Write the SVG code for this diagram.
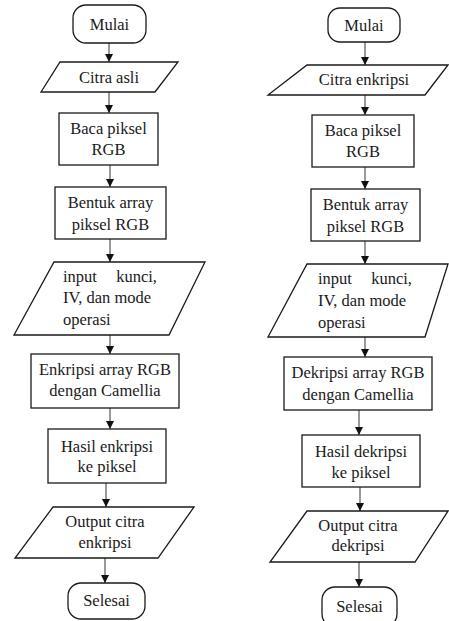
<svg xmlns="http://www.w3.org/2000/svg" width="449" height="621" viewBox="0 0 449 621">
  <style>
    .shape { fill: #ffffff; stroke: #1a1a1a; stroke-width: 1.3; }
    .conn { stroke: #555555; stroke-width: 1.2; fill: none; marker-end: url(#arrow); }
    text { font-family: "Liberation Serif", Tinos, "Times New Roman", Times, "Noto Serif", "DejaVu Serif", FreeSerif, serif; font-size: 16.5px; fill: #1a1a1a; }
    .c { text-anchor: middle; }
  </style>
  <defs>
    <marker id="arrow" viewBox="0 0 10 10" refX="10" refY="5" markerWidth="8" markerHeight="8" markerUnits="userSpaceOnUse" orient="auto">
      <path d="M0,0 L10,5 L0,10 z" fill="#111111"/>
    </marker>
  </defs>
  <rect width="449" height="621" fill="#ffffff"/>

  <!-- connectors -->
  <g id="connectors">
    <!-- encryption flow -->
    <line class="conn" x1="109" y1="43" x2="109" y2="62"/>
    <line class="conn" x1="109" y1="92" x2="109" y2="113"/>
    <line class="conn" x1="110" y1="165" x2="110" y2="187"/>
    <line class="conn" x1="110" y1="239" x2="110" y2="262"/>
    <line class="conn" x1="110" y1="335" x2="110" y2="354"/>
    <line class="conn" x1="110" y1="408" x2="110" y2="429"/>
    <line class="conn" x1="106" y1="483" x2="106" y2="507"/>
    <line class="conn" x1="105" y1="558" x2="105" y2="583"/>
    <!-- decryption flow -->
    <line class="conn" x1="365" y1="42" x2="365" y2="65"/>
    <line class="conn" x1="365" y1="95" x2="365" y2="115"/>
    <line class="conn" x1="365" y1="167" x2="365" y2="189"/>
    <line class="conn" x1="365" y1="241" x2="365" y2="264"/>
    <line class="conn" x1="365" y1="337" x2="365" y2="357"/>
    <line class="conn" x1="359" y1="410" x2="359" y2="435"/>
    <line class="conn" x1="360" y1="487" x2="360" y2="511"/>
    <line class="conn" x1="359" y1="562" x2="359" y2="587"/>
  </g>

  <!-- encryption flow nodes -->
  <g id="enc-start">
    <rect class="shape" x="73" y="5" width="73" height="38" rx="13"/>
    <text class="c" x="109.5" y="30">Mulai</text>
  </g>
  <g id="enc-input-image">
    <polygon class="shape" points="60,62 178,62 155,92 41,92"/>
    <text class="c" x="109" y="83">Citra asli</text>
  </g>
  <g id="enc-read">
    <rect class="shape" x="59" y="113" width="99" height="52"/>
    <text class="c" x="108.5" y="134">Baca piksel</text>
    <text class="c" x="108.5" y="155">RGB</text>
  </g>
  <g id="enc-array">
    <rect class="shape" x="55" y="187" width="111" height="52"/>
    <text class="c" x="110.5" y="208">Bentuk array</text>
    <text class="c" x="110.5" y="230">piksel RGB</text>
  </g>
  <g id="enc-key">
    <polygon class="shape" points="54,262 205,262 169,335 14,335"/>
    <text x="63" y="282">input</text>
    <text x="157" y="282" text-anchor="end">kunci,</text>
    <text x="63" y="303">IV, dan mode</text>
    <text x="63" y="325">operasi</text>
  </g>
  <g id="enc-process">
    <rect class="shape" x="31" y="354" width="148" height="54"/>
    <text class="c" x="105" y="375">Enkripsi array RGB</text>
    <text class="c" x="105" y="396">dengan Camellia</text>
  </g>
  <g id="enc-result">
    <rect class="shape" x="48" y="429" width="118" height="54"/>
    <text class="c" x="107" y="452">Hasil enkripsi</text>
    <text class="c" x="107" y="472">ke piksel</text>
  </g>
  <g id="enc-output">
    <polygon class="shape" points="53,507 194,507 158,558 15,558"/>
    <text class="c" x="105" y="527">Output citra</text>
    <text class="c" x="105" y="548">enkripsi</text>
  </g>
  <g id="enc-end">
    <rect class="shape" x="68" y="583" width="77" height="36" rx="13"/>
    <text class="c" x="106.5" y="606">Selesai</text>
  </g>

  <!-- decryption flow nodes -->
  <g id="dec-start">
    <rect class="shape" x="328" y="8" width="72" height="34" rx="12"/>
    <text class="c" x="364" y="31">Mulai</text>
  </g>
  <g id="dec-input-image">
    <polygon class="shape" points="307,65 448,65 425,95 268,95"/>
    <text class="c" x="364" y="85">Citra enkripsi</text>
  </g>
  <g id="dec-read">
    <rect class="shape" x="312" y="115" width="102" height="52"/>
    <text class="c" x="363" y="136">Baca piksel</text>
    <text class="c" x="363" y="157">RGB</text>
  </g>
  <g id="dec-array">
    <rect class="shape" x="311" y="189" width="109" height="52"/>
    <text class="c" x="365.5" y="210">Bentuk array</text>
    <text class="c" x="365.5" y="232">piksel RGB</text>
  </g>
  <g id="dec-key">
    <polygon class="shape" points="307,264 448,264 425,337 268,337"/>
    <text x="318" y="284">input</text>
    <text x="412" y="284" text-anchor="end">kunci,</text>
    <text x="318" y="306">IV, dan mode</text>
    <text x="318" y="328">operasi</text>
  </g>
  <g id="dec-process">
    <rect class="shape" x="284" y="357" width="148" height="53"/>
    <text class="c" x="358" y="378">Dekripsi array RGB</text>
    <text class="c" x="358" y="400">dengan Camellia</text>
  </g>
  <g id="dec-result">
    <rect class="shape" x="302" y="435" width="118" height="52"/>
    <text class="c" x="361" y="457">Hasil dekripsi</text>
    <text class="c" x="361" y="478">ke piksel</text>
  </g>
  <g id="dec-output">
    <polygon class="shape" points="307,511 448,511 415,562 270,562"/>
    <text class="c" x="358" y="531">Output citra</text>
    <text class="c" x="358" y="551">dekripsi</text>
  </g>
  <g id="dec-end">
    <rect class="shape" x="322" y="587" width="75" height="40" rx="13"/>
    <text class="c" x="359.5" y="612">Selesai</text>
  </g>
</svg>
